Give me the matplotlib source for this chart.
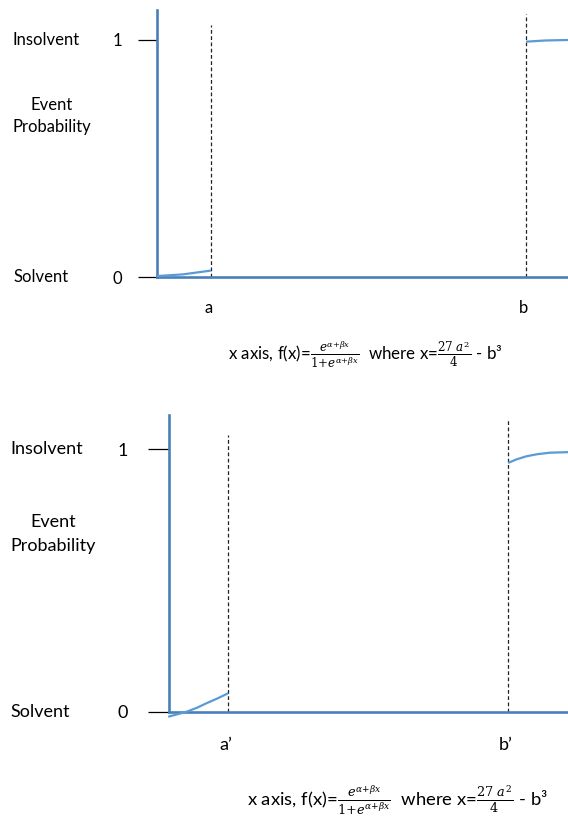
import matplotlib
matplotlib.use("Agg")
import matplotlib.pyplot as plt
import matplotlib.transforms as mtransforms

plt.rcParams['font.family'] = ['Lato', 'DejaVu Sans']
plt.rcParams['mathtext.fontset'] = 'dejavuserif'

# ---- data (x in fraction of plot width, y = event probability) ----
top_low_x = [0.0, 0.063, 0.131]
top_low_y = [0.004, 0.011, 0.027]
top_high_x = [0.898, 0.945, 1.0]
top_high_y = [0.993, 0.998, 1.0]
top_cut_x = [0.131, 0.898]
top_cut_top = [1.063, 1.11]
top_cut_labels = ["a", "b"]

bot_low_x = [-0.002, 0.044, 0.070, 0.095, 0.122, 0.148]
bot_low_y = [-0.018, 0.001, 0.016, 0.034, 0.052, 0.071]
bot_high_x = [0.850, 0.870, 0.895, 0.922, 0.955, 1.0]
bot_high_y = [0.947, 0.960, 0.972, 0.980, 0.986, 0.988]
bot_cut_x = [0.148, 0.850]
bot_cut_top = [1.053, 1.110]
bot_cut_labels = ["a\u2019", "b\u2019"]

y_ticks = [0, 1]
y_tick_labels = ["0", "1"]
state_labels = ["Solvent", "Insolvent"]
y_title = "Event\nProbability"
x_title = (r"x axis, f(x)=$\frac{e^{\alpha{+}\beta x}}{1{+}e^{\alpha{+}\beta x}}$"
           r"  where x=$\frac{27\ a^2}{4}$ - b³")

AXIS_C = '#4A7EBB'
CURVE_C = '#5B9BD5'

W, H = 568, 816
fig = plt.figure(figsize=(W / 100, H / 100), dpi=100)


def make_panel(left_px, right_px, top_px, bottom_px, zero_px, one_px,
               low_x, low_y, high_x, high_y, cut_x, cut_top, cut_labels,
               fs, form_fs, tick_len, tick_pad, label_x_px, title_x_px,
               title_y, title_ls, cut_label_dy, form_x_px, form_y_px, ax_top):
    ppu = zero_px - one_px
    ylo = -(bottom_px - zero_px) / ppu
    yhi = (zero_px - top_px) / ppu
    ax = fig.add_axes([left_px / W, 1 - bottom_px / H,
                       (right_px - left_px) / W, (bottom_px - top_px) / H])
    ax.set_xlim(0, 1)
    ax.set_ylim(ylo, yhi)
    for s in ['top', 'right']:
        ax.spines[s].set_visible(False)
    ax.spines['left'].set_color(AXIS_C)
    ax.spines['left'].set_linewidth(1.9)
    ax.spines['left'].set_bounds(0, ax_top)
    ax.spines['bottom'].set_position(('data', 0))
    ax.spines['bottom'].set_color(AXIS_C)
    ax.spines['bottom'].set_linewidth(1.9)
    ax.set_xticks([])
    ax.set_yticks(y_ticks)
    ax.set_yticklabels(y_tick_labels, fontsize=fs)
    ax.tick_params(axis='y', length=tick_len, width=0.9, color='black',
                   pad=tick_pad, direction='out')

    ax.plot(low_x, low_y, color=CURVE_C, lw=1.6, clip_on=False,
            solid_capstyle='butt', zorder=3)
    ax.plot(high_x, high_y, color=CURVE_C, lw=1.6, clip_on=False,
            solid_capstyle='butt', zorder=3)
    for cx, ct, lab in zip(cut_x, cut_top, cut_labels):
        ax.plot([cx, cx], [0, ct], color='#222222', lw=0.9,
                linestyle=(0, (3, 2)), zorder=2)
        ax.text(cx - 0.006, -cut_label_dy / ppu, lab, ha='center',
                va='center', fontsize=fs, clip_on=False)

    tr = mtransforms.blended_transform_factory(fig.transFigure, ax.transData)
    for yv, lab in zip(y_ticks, state_labels):
        fig.text(label_x_px / W, yv, lab, transform=tr, ha='left',
                 va='center', fontsize=fs)
    fig.text(title_x_px / W, title_y, y_title, transform=tr, ha='center',
             va='center', fontsize=fs, linespacing=title_ls)
    fig.text(form_x_px / W, 1 - form_y_px / H, x_title, ha='center',
             va='center', fontsize=form_fs)
    return ax


make_panel(157, 568, 10, 290, 277, 40,
           top_low_x, top_low_y, top_high_x, top_high_y,
           top_cut_x, top_cut_top, top_cut_labels,
           fs=12, form_fs=12.2, tick_len=13.7, tick_pad=11.5, label_x_px=13,
           title_x_px=52, title_y=0.679, title_ls=1.5, cut_label_dy=31,
           form_x_px=365, form_y_px=355, ax_top=(277 - 10) / 237)

make_panel(169, 568, 415, 725, 712, 449,
           bot_low_x, bot_low_y, bot_high_x, bot_high_y,
           bot_cut_x, bot_cut_top, bot_cut_labels,
           fs=13, form_fs=13.3, tick_len=15, tick_pad=14.4, label_x_px=10,
           title_x_px=53, title_y=0.677, title_ls=1.62, cut_label_dy=33,
           form_x_px=397, form_y_px=800, ax_top=(712 - 415) / 263)

fig.savefig("out.png", dpi=100)
